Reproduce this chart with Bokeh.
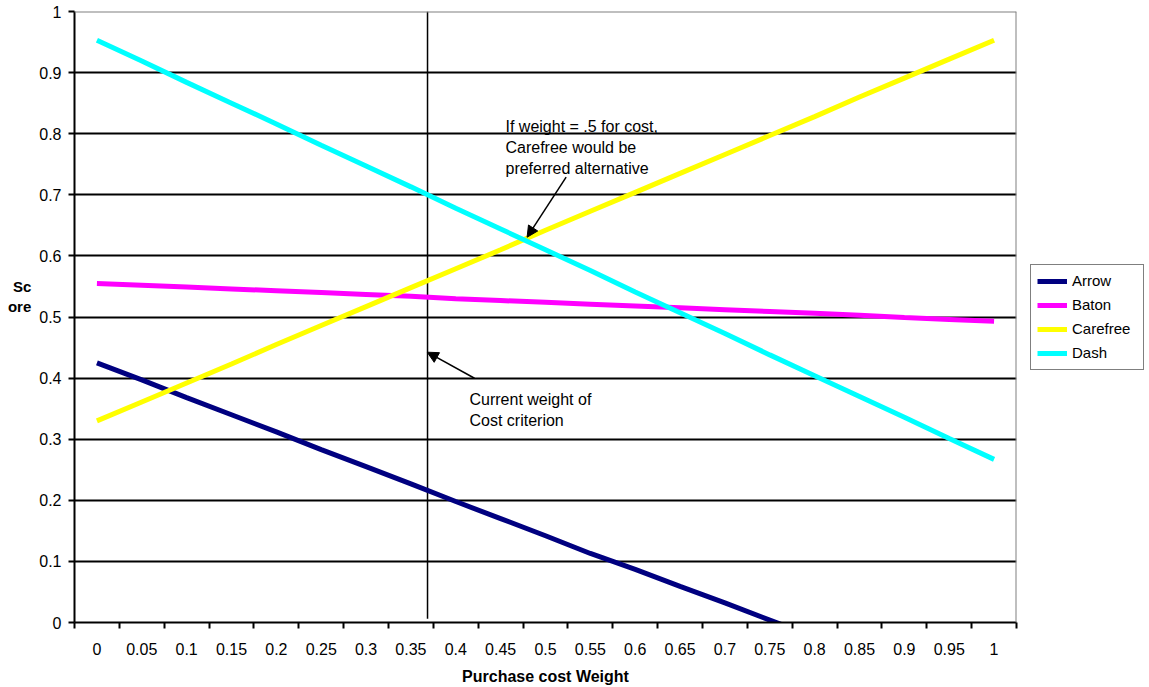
from bokeh.plotting import figure
from bokeh.models import (Range1d, FixedTicker, NumeralTickFormatter, Legend, LegendItem,
                          Span, Label, Arrow, NormalHead)
from bokeh.embed import file_html
from bokeh.resources import INLINE

# ---------------- data ----------------
weight_labels = ["0", "0.05", "0.1", "0.15", "0.2", "0.25", "0.3", "0.35", "0.4", "0.45", "0.5",
                 "0.55", "0.6", "0.65", "0.7", "0.75", "0.8", "0.85", "0.9", "0.95", "1"]
weight_step = 0.05

arrow_score = [0.425, 0.397, 0.368, 0.340, 0.312, 0.283, 0.255, 0.227, 0.198, 0.170, 0.142,
               0.113, 0.087, 0.059, 0.032, 0.004, -0.024, -0.053, -0.081, -0.110, -0.138]
baton_score = [0.555, 0.552, 0.549, 0.546, 0.543, 0.540, 0.537, 0.534, 0.530, 0.527, 0.524,
               0.521, 0.518, 0.515, 0.512, 0.509, 0.506, 0.503, 0.499, 0.496, 0.493]
carefree_score = [0.330, 0.361, 0.392, 0.423, 0.455, 0.486, 0.517, 0.548, 0.579, 0.610, 0.642,
                  0.673, 0.704, 0.735, 0.766, 0.797, 0.828, 0.860, 0.891, 0.922, 0.953]
dash_score = [0.953, 0.919, 0.884, 0.850, 0.816, 0.781, 0.747, 0.713, 0.678, 0.644, 0.610,
              0.576, 0.541, 0.507, 0.473, 0.438, 0.404, 0.370, 0.336, 0.301, 0.267]

series_names = ["Arrow", "Baton", "Carefree", "Dash"]
series_values = [arrow_score, baton_score, carefree_score, dash_score]
series_colors = ["#000080", "#FF00FF", "#FFFF00", "#00FFFF"]

y_ticks = [0, 0.1, 0.2, 0.3, 0.4, 0.5, 0.6, 0.7, 0.8, 0.9, 1.0]
current_weight = 0.3685

FONT = "Liberation Sans"

# ---------------- figure ----------------
n = len(weight_labels)
xs = list(range(n))

p = figure(frame_width=942, frame_height=611,
           x_range=Range1d(-0.5, n - 0.5), y_range=Range1d(0, 1),
           output_backend="svg", toolbar_location=None,
           min_border_left=74, min_border_top=11, min_border_right=133, min_border_bottom=65,
           background_fill_color="white", border_fill_color="white")
p.outline_line_color = None

# grid
p.xgrid.visible = False
p.ygrid.ticker = FixedTicker(ticks=y_ticks[1:-1])
p.ygrid.grid_line_color = "black"
p.ygrid.grid_line_width = 2

# x axis (category style: ticks between categories)
xa = p.xaxis[0]
xa.ticker = FixedTicker(ticks=xs, minor_ticks=[i - 0.5 for i in range(n + 1)])
xa.major_label_overrides = {i: lab for i, lab in enumerate(weight_labels)}
xa.major_tick_out = 0
xa.major_tick_in = 0
xa.minor_tick_out = 6
xa.minor_tick_in = 0
xa.minor_tick_line_color = "black"
xa.minor_tick_line_width = 2
xa.axis_line_color = "black"
xa.axis_line_width = 2
xa.major_label_text_font = FONT
xa.major_label_text_font_size = "16px"
xa.major_label_text_color = "black"
xa.major_label_standoff = 14
xa.axis_label = "Purchase cost Weight"
xa.axis_label_text_font = FONT
xa.axis_label_text_font_size = "16px"
xa.axis_label_text_font_style = "bold"
xa.axis_label_text_color = "black"
xa.axis_label_standoff = 10

# y axis
ya = p.yaxis[0]
ya.ticker = FixedTicker(ticks=y_ticks)
ya.formatter = NumeralTickFormatter(format="0.[0]")
ya.major_tick_out = 6
ya.major_tick_in = 0
ya.major_tick_line_color = "black"
ya.major_tick_line_width = 2
ya.minor_tick_line_color = None
ya.axis_line_color = "black"
ya.axis_line_width = 2
ya.major_label_text_font = FONT
ya.major_label_text_font_size = "16px"
ya.major_label_text_color = "black"
ya.major_label_standoff = 7
ya.axis_label = "Sc\nore\n \n "
ya.axis_label_orientation = "horizontal"
ya.axis_label_text_align = "left"
ya.axis_label_text_font = FONT
ya.axis_label_text_font_size = "15px"
ya.axis_label_text_font_style = "bold"
ya.axis_label_text_color = "black"
ya.axis_label_standoff = 5

# border (top/right gray)
p.add_layout(Span(location=1, dimension="width", line_color="#808080", line_width=2))
p.add_layout(Span(location=n - 0.5, dimension="height", line_color="#808080", line_width=2))

# current weight vertical line
cw_x = current_weight / weight_step
p.segment(x0=[cw_x], y0=[0.006], x1=[cw_x], y1=[1], line_color="black", line_width=1.5)

# series
items = []
for name, vals, col in zip(series_names, series_values, series_colors):
    r = p.line(xs, vals, line_color=col, line_width=5)
    items.append(LegendItem(label=name, renderers=[r]))

legend = Legend(items=items, location="center_left",
                border_line_color="black", border_line_width=1.5,
                padding=6, spacing=4, margin=14,
                glyph_width=30, glyph_height=20, label_height=20, label_width=65,
                label_standoff=5, label_text_font=FONT, label_text_font_size="15px",
                label_text_color="black", background_fill_color="white")
p.add_layout(legend, "right")

# annotations
def add_text(x, y, txt, size="16px", style="normal"):
    p.add_layout(Label(x=x, y=y, text=txt, text_font=FONT, text_font_size=size,
                       text_font_style=style, text_color="black",
                       text_align="left", text_baseline="alphabetic"))

add_text(9.108, 0.8125, "If weight = .5 for cost,")
add_text(9.108, 0.7775, "Carefree would be")
add_text(9.108, 0.7425, "preferred alternative")
add_text(8.306, 0.3645, "Current weight of")
add_text(8.306, 0.3305, "Cost criterion")

p.add_layout(Arrow(end=NormalHead(size=11, fill_color="black", line_color="black", line_width=1),
                   x_start=10.46, y_start=0.7288, x_end=9.59, y_end=0.6306,
                   line_color="black", line_width=1.5))
p.add_layout(Arrow(end=NormalHead(size=11, fill_color="black", line_color="black", line_width=1),
                   x_start=8.417, y_start=0.3998, x_end=7.363, y_end=0.4424,
                   line_color="black", line_width=1.5))

open("out.html", "w").write(file_html(p, INLINE))
